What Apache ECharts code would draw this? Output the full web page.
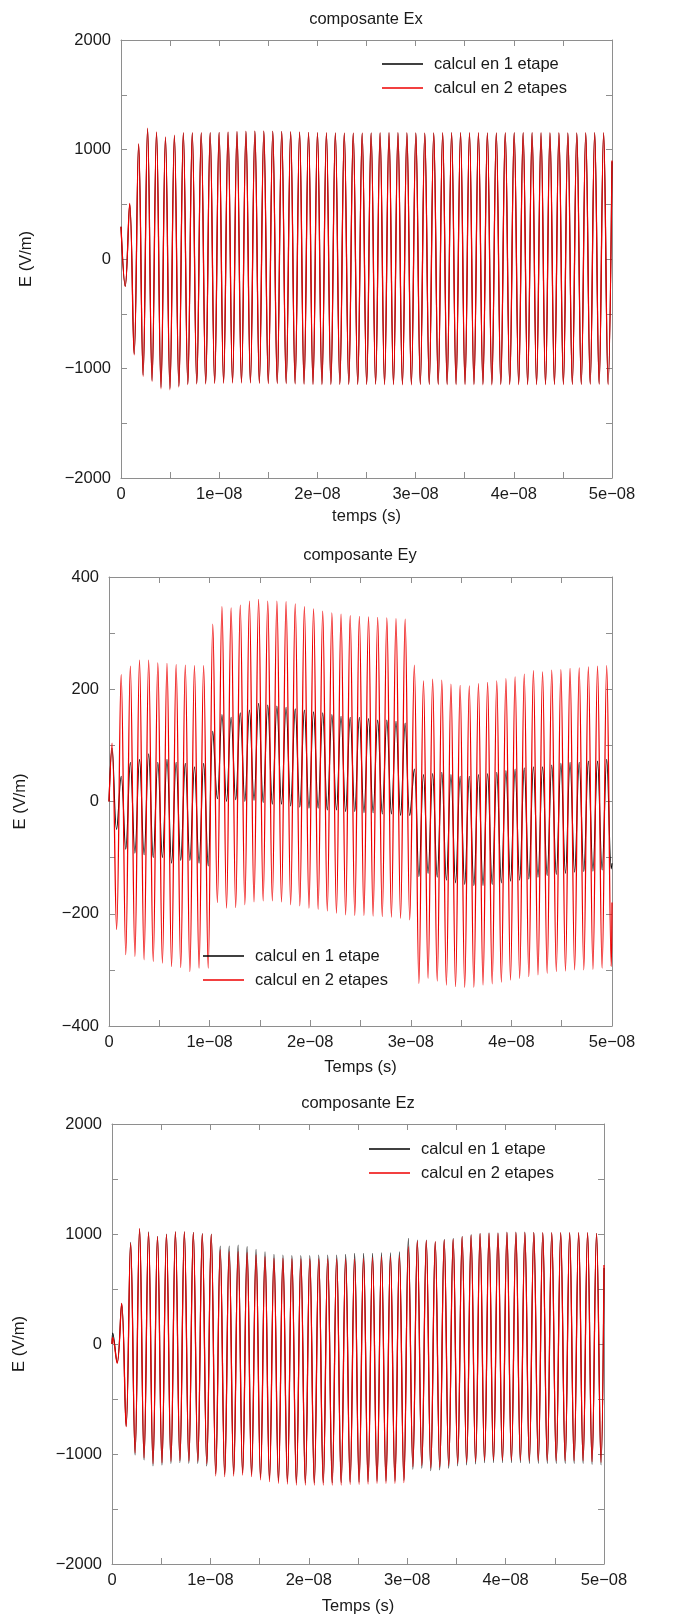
<!DOCTYPE html>
<html><head><meta charset="utf-8">
<script src="https://cdn.jsdelivr.net/npm/echarts@6.0.0/dist/echarts.min.js"></script>
<style>html,body{margin:0;padding:0;background:#fff}#c{width:678px;height:1621px}</style>
</head><body><div id="c"></div><script>
// ---- data (time in ns, field in V/m) ----
const HALF_PERIOD = 0.4553;          // half of the oscillation period (ns)
const T_END = 50;                    // 5e-8 s
const xTickLabels = ['0', '1e\u221208', '2e\u221208', '3e\u221208', '4e\u221208', '5e\u221208'];
const seriesNames = ['calcul en 1 etape', 'calcul en 2 etapes'];
const titles = ['composante Ex', 'composante Ey', 'composante Ez'];

// Ex : first extreme is a trough at 0.43 ns
const exStart = [294, 294], exT0 = 0.43, exEnd = [890, 900];
const exBlackPeaks = [500,1048,1190,1155,1110,1126,1150,1150,1151,1152,1154,1158,1162,1165,1166,1167,1166,1163,1160,1157,1155,1152,1151,1150,1149,1149,1149,1150,1151,1152,1152,1151,1150,1149,1150,1151,1152,1152,1151,1150,1150,1150,1151,1152,1152,1152,1151,1151,1150,1150,1150,1151,1152,1151];
const exBlackTroughs = [-248,-866,-1060,-1108,-1172,-1182,-1160,-1140,-1135,-1134,-1130,-1127,-1125,-1126,-1127,-1129,-1131,-1132,-1133,-1135,-1138,-1140,-1141,-1141,-1140,-1140,-1141,-1141,-1139,-1140,-1141,-1142,-1142,-1141,-1140,-1140,-1141,-1141,-1140,-1141,-1142,-1142,-1141,-1140,-1140,-1141,-1141,-1140,-1140,-1141,-1140,-1140,-1139,-1139,-1140];
const exRedPeaks = [507,1054,1196,1160,1114,1130,1154,1154,1154,1155,1157,1160,1165,1168,1169,1169,1168,1166,1163,1160,1157,1154,1154,1152,1151,1151,1151,1152,1154,1154,1154,1154,1152,1151,1152,1154,1154,1154,1154,1153,1152,1152,1153,1154,1154,1154,1154,1154,1153,1152,1152,1153,1154,1154];
const exRedTroughs = [-252,-875,-1072,-1118,-1185,-1194,-1169,-1148,-1142,-1142,-1139,-1135,-1133,-1133,-1133,-1136,-1139,-1139,-1139,-1142,-1145,-1148,-1148,-1148,-1148,-1148,-1148,-1148,-1145,-1148,-1148,-1150,-1150,-1148,-1148,-1148,-1148,-1148,-1148,-1148,-1150,-1150,-1148,-1148,-1148,-1148,-1148,-1148,-1148,-1148,-1148,-1148,-1146,-1146,-1148];

// Ey : first extreme is a peak at 0.3 ns
const eyStart = [0, 0], eyT0 = 0.3, eyEnd = [-110, -180];
const eyBlackPeaks = [95,45,70,75,85,70,75,70,68,62,68, 125,155,150,158,163,175,172,170,168,165,163,160,158,155,152,150,150,148,145,145,143,140, 58,48,50,52,48,45,45,48,50,52,55,58,60,62,62,65,68,70,70,72,72,75];
const eyBlackTroughs = [-50,-85,-92,-95,-100,-100,-110,-105,-105,-110,-115, 5,0,3,0,2,-2,-5,-5,-8,-10,-12,-12,-15,-15,-18,-18,-20,-20,-22,-22,-25,-25, -134,-128,-135,-140,-145,-148,-150,-150,-148,-145,-142,-140,-138,-135,-132,-130,-128,-126,-125,-124,-122,-120];
const eyRedPeaks = [104,226,241,252,252,247,246,244,243,242,242, 316,347,345,350,357,360,357,357,356,352,347,343,339,336,334,331,330,329,328,327,326,325, 243,215,218,216,209,207,206,210,212,215,219,222,227,233,231,234,235,237,238,240,241,242];
const eyRedTroughs = [-228,-273,-276,-282,-285,-288,-294,-296,-303,-297,-297, -180,-190,-189,-184,-179,-177,-177,-179,-184,-186,-190,-192,-195,-199,-202,-203,-203,-204,-205,-206,-208,-211, -324,-315,-320,-327,-330,-331,-331,-327,-325,-322,-318,-315,-312,-309,-306,-303,-302,-300,-300,-299,-297,-294];

// Ez : first extreme is a peak at 0.07 ns
const ezStart = [0, 0], ezT0 = 0.07, ezEnd = [690, 718];
const ezBlackPeaks = [100,365,925,1045,1020,980,1000,1020,1020,1015,1005,1000, 891,891,900,885,861,839,815,809,803,803,803,809,809,809,815,824,824,824,830,830,839, 961,945,945,930,951,961,979,994,1006,1012,1012,1018,1018,1018,1015,1012,1012,1012,1012,1012,1012,1006];
const ezBlackTroughs = [-170,-745,-1009,-1055,-1109,-1100,-1085,-1079,-1085,-1085,-1109, -1180,-1186,-1182,-1172,-1186,-1215,-1232,-1247,-1252,-1261,-1262,-1262,-1260,-1261,-1260,-1256,-1255,-1252,-1247,-1246,-1247,-1240, -1139,-1130,-1152,-1145,-1130,-1109,-1100,-1091,-1079,-1079,-1079,-1079,-1079,-1085,-1085,-1085,-1085,-1085,-1085,-1085,-1094,-1100];
const ezRedPeaks = [60,370,915,1052,1012,975,997,1018,1018,1012,1000,997, 855,839,839,830,809,794,779,779,773,773,773,773,773,773,773,773,779,788,794,794,803, 885,936,939,930,945,952,973,988,1000,1006,1006,1012,1012,1012,1012,1012,1012,1012,1012,1012,1012,1006];
const ezRedTroughs = [-176,-752,-990,-1035,-1088,-1080,-1066,-1060,-1065,-1066,-1088, -1200,-1206,-1200,-1191,-1206,-1236,-1252,-1267,-1273,-1282,-1282,-1282,-1282,-1282,-1282,-1276,-1276,-1273,-1267,-1267,-1267,-1261, -1115,-1105,-1128,-1121,-1106,-1086,-1076,-1068,-1057,-1056,-1057,-1056,-1057,-1062,-1061,-1062,-1062,-1061,-1062,-1062,-1070,-1076];

// ---- build point lists: start value, alternating extremes, end value ----
function build(start, t0, peaks, troughs, firstIsPeak, end) {
  const pts = [[0, start]];
  let pi = 0, ti = 0;
  for (let i = 0; ; i++) {
    const isPeak = firstIsPeak ? (i % 2 === 0) : (i % 2 === 1);
    const arr = isPeak ? peaks : troughs;
    const idx = isPeak ? pi++ : ti++;
    if (idx >= arr.length) break;
    const t = t0 + i * HALF_PERIOD;
    if (t >= T_END) break;
    pts.push([t, arr[idx]]);
  }
  pts.push([T_END, end]);
  return pts;
}

const FONT = 'Liberation Sans, Arial, Helvetica, sans-serif';
const FS = 16.5;
const TXT = '#1a1a1a';
const AX = '#8e8e8e';
const BLACK = '#000000';
const RED = '#ee0000';

const grids = [
  { left: 121, top: 40, width: 491, height: 438 },
  { left: 109, top: 577, width: 503, height: 449 },
  { left: 112, top: 1124, width: 492, height: 440 }
];
const yCfg = [
  { min: -2000, max: 2000, step: 500, lab: 1000, nameGap: 86, xName: 'temps (s)', xGap: 30 },
  { min: -400, max: 400, step: 100, lab: 200, nameGap: 80, xName: 'Temps (s)', xGap: 33 },
  { min: -2000, max: 2000, step: 500, lab: 1000, nameGap: 84, xName: 'Temps (s)', xGap: 34 }
];
const fmtNum = v => String(v).replace('-', '\u2212');

const xAxes = [], yAxes = [];
yCfg.forEach((c, g) => {
  const tick = { inside: true, length: 6, lineStyle: { color: AX } };
  const line = { onZero: false, lineStyle: { color: AX, width: 1 } };
  xAxes.push({
    gridIndex: g, type: 'value', min: 0, max: T_END, interval: 5, position: 'bottom',
    axisLine: line, axisTick: tick, splitLine: { show: false },
    axisLabel: { margin: 8, color: TXT, fontSize: FS, fontFamily: FONT,
      formatter: v => { const k = Math.round(v); return k % 10 === 0 ? xTickLabels[k / 10] : ''; } },
    name: c.xName, nameLocation: 'middle', nameGap: c.xGap,
    nameTextStyle: { color: TXT, fontSize: FS, fontFamily: FONT }
  });
  xAxes.push({
    gridIndex: g, type: 'value', min: 0, max: T_END, interval: 5, position: 'top',
    axisLine: line, axisTick: tick, splitLine: { show: false }, axisLabel: { show: false }
  });
  yAxes.push({
    gridIndex: g, type: 'value', min: c.min, max: c.max, interval: c.step, position: 'left',
    axisLine: line, axisTick: tick, splitLine: { show: false },
    axisLabel: { margin: 10, color: TXT, fontSize: FS, fontFamily: FONT,
      formatter: v => (Math.round(v) % c.lab === 0 ? fmtNum(Math.round(v)) : '') },
    name: 'E (V/m)', nameLocation: 'middle', nameGap: c.nameGap,
    nameTextStyle: { color: TXT, fontSize: FS, fontFamily: FONT }
  });
  yAxes.push({
    gridIndex: g, type: 'value', min: c.min, max: c.max, interval: c.step, position: 'right',
    axisLine: line, axisTick: tick, splitLine: { show: false }, axisLabel: { show: false }
  });
});

function lineSeries(name, g, color, width, data) {
  return {
    name, type: 'line', xAxisIndex: 2 * g, yAxisIndex: 2 * g, data,
    symbol: 'none', showSymbol: false, smooth: 0.4, animation: false,
    lineStyle: { color, width }, itemStyle: { color }
  };
}

const series = [
  lineSeries(seriesNames[0], 0, BLACK, 1.1, build(exStart[0], exT0, exBlackPeaks, exBlackTroughs, false, exEnd[0])),
  lineSeries(seriesNames[1], 0, RED, 1.3, build(exStart[1], exT0, exRedPeaks, exRedTroughs, false, exEnd[1])),
  lineSeries(seriesNames[0], 1, BLACK, 1.1, build(eyStart[0], eyT0, eyBlackPeaks, eyBlackTroughs, true, eyEnd[0])),
  lineSeries(seriesNames[1], 1, RED, 1.3, build(eyStart[1], eyT0, eyRedPeaks, eyRedTroughs, true, eyEnd[1])),
  lineSeries(seriesNames[0], 2, BLACK, 1.1, build(ezStart[0], ezT0, ezBlackPeaks, ezBlackTroughs, true, ezEnd[0])),
  lineSeries(seriesNames[1], 2, RED, 1.3, build(ezStart[1], ezT0, ezRedPeaks, ezRedTroughs, true, ezEnd[1]))
];

const legendPos = [{ left: 382, top: 54 }, { left: 203, top: 946 }, { left: 369, top: 1139 }];
const legend = legendPos.map(p => ({
  left: p.left, top: p.top, orient: 'vertical', padding: 0, itemGap: 4,
  itemWidth: 41, itemHeight: 1.5, icon: 'rect', selectedMode: false,
  data: seriesNames,
  textStyle: { color: TXT, fontSize: FS, fontFamily: FONT, lineHeight: 20, padding: [0, 0, 0, 6] }
}));

const titleCenters = [{ x: 366, top: 11 }, { x: 360, top: 547 }, { x: 358, top: 1095 }];
const title = titles.map((t, i) => ({
  text: t, left: titleCenters[i].x, top: titleCenters[i].top, textAlign: 'center', padding: 0,
  textStyle: { color: TXT, fontSize: FS, fontWeight: 'normal', fontFamily: FONT }
}));

const chart = echarts.init(document.getElementById('c'), null, { renderer: 'canvas' });
chart.setOption({
  backgroundColor: '#ffffff', animation: false,
  title, legend, grid: grids, xAxis: xAxes, yAxis: yAxes, series
});
</script></body></html>
